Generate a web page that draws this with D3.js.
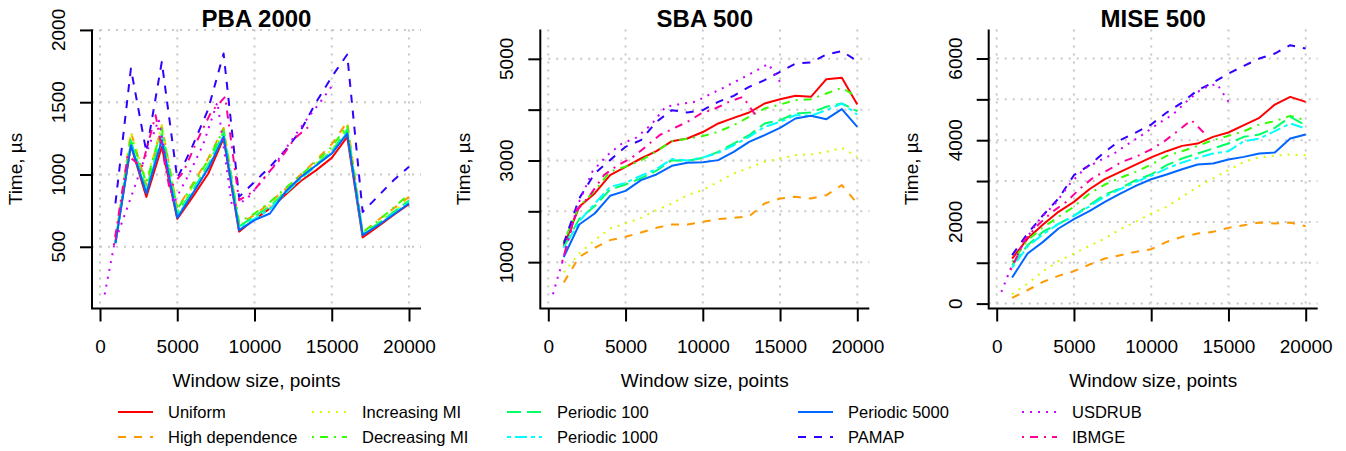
<!DOCTYPE html>
<html lang="en">
<head>
<meta charset="UTF-8">
<title>Time vs window size</title>
<script src="https://d3js.org/d3.v7.min.js"></script>
<style>
  body, html { margin: 0; padding: 0; background: #fff; overflow: hidden; }
  svg { display: block; font-family: "Liberation Sans", Arial, Helvetica, sans-serif; }
</style>
</head>
<body>
<svg width="1346" height="451"></svg>
<script>
// window sizes (x) for the synthetic series and PAMAP, and for the two real datasets
const windowSizes = [1000, 2000, 3000, 4000, 5000, 6000, 7000, 8000, 9000, 10000,
                     11000, 12000, 13000, 14000, 15000, 16000, 17000, 18000, 19000, 20000];
const usdrubSizes = [300, 950, 1900, 2850, 3800, 4750, 5700, 6650, 7600, 8550, 9500,
                     10450, 11400, 12350, 13300, 14250, 15200];
const ibmgeSizes = [900, 1800, 2700, 3600, 4500, 5400, 6300, 7200, 8100, 9000,
                    9900, 10800, 11700, 12600, 13500];

const seriesNames = ["Uniform", "High dependence", "Increasing MI", "Decreasing MI", "Periodic 100",
                     "Periodic 1000", "Periodic 5000", "PAMAP", "USDRUB", "IBMGE"];
const seriesColors = ["#FF0000", "#FF9900", "#CCFF00", "#33FF00", "#00FF66",
                      "#00FFFF", "#0066FF", "#3300FF", "#CC00FF", "#FF0099"];
const seriesDash = [null, "8,8", "2,6", "2,6,8,6", "14,6", "4,4,12,4", null, "8,8", "2,6", "2,6,8,6"];
const seriesSizes = [windowSizes, windowSizes, windowSizes, windowSizes, windowSizes,
                     windowSizes, windowSizes, windowSizes, usdrubSizes, ibmgeSizes];

const panelTitles = ["PBA 2000", "SBA 500", "MISE 500"];
const xTicks = [0, 5000, 10000, 15000, 20000];
const yTicks = [[500, 1000, 1500, 2000],
                [1000, 2000, 3000, 4000, 5000],
                [0, 1000, 2000, 3000, 4000, 5000, 6000]];
const yTickLabels = [[500, 1000, 1500, 2000],
                     [1000, 3000, 5000],
                     [0, 2000, 4000, 6000]];
const yDomains = [[73, 2003], [88, 5577], [-120, 6710]];

// times in microseconds, one row per series in legend order
const pbaTimes = [
  [530, 1200, 845, 1190, 693, 845, 1005, 1250, 605, 690, 765, 860, 955, 1030, 1115, 1260, 565, 640, 720, 795],
  [540, 1295, 925, 1340, 765, 935, 1110, 1322, 655, 720, 805, 900, 1000, 1100, 1210, 1364, 600, 685, 765, 845],
  [535, 1290, 960, 1335, 745, 915, 1085, 1305, 650, 710, 790, 890, 985, 1080, 1170, 1330, 590, 665, 745, 830],
  [535, 1255, 945, 1320, 760, 925, 1100, 1310, 670, 730, 810, 905, 995, 1090, 1190, 1340, 600, 680, 770, 865],
  [530, 1230, 900, 1280, 730, 890, 1065, 1290, 640, 710, 780, 880, 980, 1070, 1160, 1310, 590, 660, 740, 820],
  [525, 1215, 880, 1255, 710, 875, 1050, 1270, 625, 695, 760, 870, 970, 1060, 1150, 1290, 585, 650, 730, 805],
  [523, 1203, 869, 1237, 700, 869, 1041, 1260, 615, 684, 730, 880, 983, 1064, 1145, 1283, 580, 649, 723, 799],
  [800, 1733, 1156, 1779, 972, 1200, 1450, 1837, 845, 949, 1053, 1168, 1306, 1502, 1675, 1830, 741, 850, 960, 1053],
  [170, 530, 810, 1100, 1380, 800, 990, 1200, 1500, 776, 830, 950, 1080, 1230, 1370, 1500, 1640],
  [511, 1133, 1050, 1410, 903, 1018, 1237, 1433, 1537, 822, 880, 1000, 1110, 1250, 1330]
];
const sbaTimes = [
  [1320, 2089, 2351, 2711, 2875, 3039, 3184, 3380, 3433, 3560, 3728, 3839, 3944, 4121, 4206, 4272, 4252, 4600, 4626, 4102],
  [600, 1105, 1282, 1433, 1498, 1584, 1675, 1741, 1741, 1794, 1846, 1872, 1900, 2154, 2252, 2285, 2252, 2318, 2515, 2154],
  [800, 1171, 1433, 1662, 1761, 1872, 2023, 2154, 2318, 2420, 2580, 2744, 2856, 2974, 3039, 3105, 3118, 3170, 3249, 3072],
  [1400, 2100, 2400, 2780, 2880, 3000, 3180, 3380, 3430, 3480, 3564, 3695, 3859, 4023, 4102, 4187, 4206, 4318, 4429, 4252],
  [1300, 1850, 2100, 2430, 2528, 2650, 2800, 3007, 2990, 3052, 3170, 3334, 3498, 3728, 3793, 3925, 3944, 4056, 4121, 3970],
  [1280, 1800, 2150, 2480, 2560, 2700, 2830, 3030, 3000, 3060, 3150, 3300, 3466, 3662, 3761, 3892, 3879, 3990, 4121, 3905],
  [1100, 1741, 1957, 2305, 2403, 2613, 2725, 2895, 2954, 2965, 3007, 3170, 3367, 3498, 3643, 3826, 3879, 3813, 4010, 3662],
  [1367, 2252, 2744, 3007, 3269, 3400, 3761, 3990, 3944, 3990, 4154, 4272, 4449, 4580, 4744, 4908, 4928, 5085, 5151, 4954],
  [370, 1050, 2120, 2780, 3100, 3330, 3450, 3700, 4060, 4110, 4154, 4300, 4440, 4590, 4740, 4900, 4449],
  [1007, 2000, 2318, 2711, 2908, 3052, 3269, 3498, 3630, 3761, 3925, 4023, 4154, 4252, 3850]
];
const miseTimes = [
  [1103, 1593, 1936, 2246, 2490, 2800, 3045, 3225, 3404, 3580, 3731, 3861, 3918, 4082, 4188, 4367, 4547, 4873, 5061, 4938],
  [140, 328, 532, 679, 793, 956, 1103, 1185, 1266, 1332, 1511, 1634, 1715, 1756, 1854, 1919, 1984, 1960, 1984, 1895],
  [230, 491, 793, 1038, 1226, 1413, 1593, 1821, 2001, 2205, 2368, 2613, 2858, 3062, 3266, 3470, 3580, 3620, 3650, 3630],
  [1022, 1550, 1870, 2123, 2370, 2694, 2915, 3078, 3225, 3404, 3616, 3731, 3861, 4000, 4106, 4220, 4384, 4465, 4596, 4490],
  [940, 1430, 1760, 1950, 2150, 2409, 2670, 2817, 3021, 3160, 3388, 3551, 3674, 3796, 3918, 4082, 4139, 4302, 4571, 4367],
  [880, 1400, 1700, 1950, 2150, 2380, 2620, 2800, 2980, 3130, 3306, 3453, 3567, 3674, 3731, 3976, 4041, 4220, 4408, 4286],
  [640, 1226, 1511, 1838, 2066, 2262, 2490, 2694, 2882, 3045, 3160, 3290, 3404, 3429, 3527, 3592, 3674, 3698, 4041, 4139],
  [1185, 1715, 2164, 2572, 3143, 3388, 3714, 4000, 4188, 4384, 4677, 4922, 5224, 5412, 5632, 5820, 5999, 6122, 6326, 6244],
  [287, 900, 1593, 2100, 2450, 2939, 3306, 3500, 3674, 3918, 4150, 4408, 4628, 4970, 5265, 5380, 4830],
  [818, 1552, 1936, 2246, 2490, 2817, 3102, 3266, 3470, 3592, 3755, 3959, 4220, 4490, 4150]
];
const panelTimes = [pbaTimes, sbaTimes, miseTimes];

// layout
const plotTop = 29.5, plotBottom = 308.5;
const zeroX = [100, 548.3, 996.7];   // pixel where window size 0 sits
const xSpan = 309;                   // pixels from 0 to 20000
const legendTextX = [168, 362, 557, 848, 1072];
const legendRowY = [412, 437];

const svg = d3.select("svg");

panelTitles.forEach((title, p) => {
  const x = d3.scaleLinear().domain([0, 20000]).range([zeroX[p], zeroX[p] + xSpan]);
  const y = d3.scaleLinear().domain(yDomains[p]).range([plotBottom, plotTop]);
  const left = zeroX[p] - 8, right = zeroX[p] + 321;
  const mid = (left + right) / 2;
  const g = svg.append("g");

  // dotted grid at the ticks
  const grid = g.append("g").attr("stroke", "#c8c8c8").attr("stroke-width", 2).attr("stroke-dasharray", "2,6");
  grid.selectAll("line.v").data(xTicks).join("line").attr("class", "v")
    .attr("x1", d => x(d)).attr("x2", d => x(d))
    .attr("y1", plotTop).attr("y2", plotBottom);
  grid.selectAll("line.h").data(yTicks[p]).join("line").attr("class", "h")
    .attr("x1", left).attr("x2", right)
    .attr("y1", d => y(d)).attr("y2", d => y(d));

  // series
  const rows = panelTimes[p].map((vals, i) => ({
    i, pts: vals.map((v, k) => [seriesSizes[i][k], v])
  }));
  const line = d3.line().x(d => x(d[0])).y(d => y(d[1]));
  g.append("g").selectAll("path").data(rows).join("path")
    .attr("d", d => line(d.pts))
    .attr("fill", "none")
    .attr("stroke", d => seriesColors[d.i])
    .attr("stroke-width", 2)
    .attr("stroke-dasharray", d => seriesDash[d.i])
    .attr("stroke-linejoin", "round");

  // axes
  const xAxis = g.append("g").attr("transform", `translate(0,${plotBottom})`)
    .call(d3.axisBottom(x).tickValues(xTicks).tickFormat(d => d)
      .tickSize(13).tickPadding(18).tickSizeOuter(0));
  xAxis.select(".domain").remove();
  xAxis.selectAll("line").attr("stroke-width", 2);
  xAxis.selectAll("text").attr("font-size", 19).attr("font-family", null).attr("fill", "#000");

  const yAxis = g.append("g").attr("transform", `translate(${left},0)`)
    .call(d3.axisLeft(y).tickValues(yTicks[p]).tickSize(12).tickFormat("").tickSizeOuter(0));
  yAxis.select(".domain").remove();
  yAxis.selectAll("line").attr("stroke-width", 2);

  g.append("g").selectAll("text").data(yTickLabels[p]).join("text")
    .attr("transform", d => `translate(${left - 27},${y(d)}) rotate(-90)`)
    .attr("text-anchor", "middle")
    .attr("font-size", 19)
    .text(d => d);

  // L-shaped box
  g.append("path")
    .attr("d", `M${left},${plotTop}V${plotBottom}H${right}`)
    .attr("fill", "none").attr("stroke", "#000").attr("stroke-width", 2);

  // titles
  g.append("text").attr("x", mid).attr("y", 27).attr("text-anchor", "middle")
    .attr("font-size", 24).attr("font-weight", "bold").text(title);
  g.append("text").attr("x", mid).attr("y", 387).attr("text-anchor", "middle")
    .attr("font-size", 19).text("Window size, points");
  g.append("text")
    .attr("transform", `translate(${left - 70.5},${(plotTop + plotBottom) / 2}) rotate(-90)`)
    .attr("text-anchor", "middle").attr("font-size", 19).text("Time, \u00b5s");
});

// legend, filled column by column
const legend = svg.append("g").selectAll("g").data(seriesNames).join("g")
  .attr("transform", (d, i) => `translate(${legendTextX[Math.floor(i / 2)]},${legendRowY[i % 2]})`);
legend.append("line")
  .attr("x1", -50).attr("x2", -15).attr("y1", 0).attr("y2", 0)
  .attr("stroke", (d, i) => seriesColors[i])
  .attr("stroke-width", 2)
  .attr("stroke-dasharray", (d, i) => seriesDash[i]);
legend.append("text")
  .attr("dy", "0.35em").attr("font-size", 16.5).text(d => d);
</script>
</body>
</html>
